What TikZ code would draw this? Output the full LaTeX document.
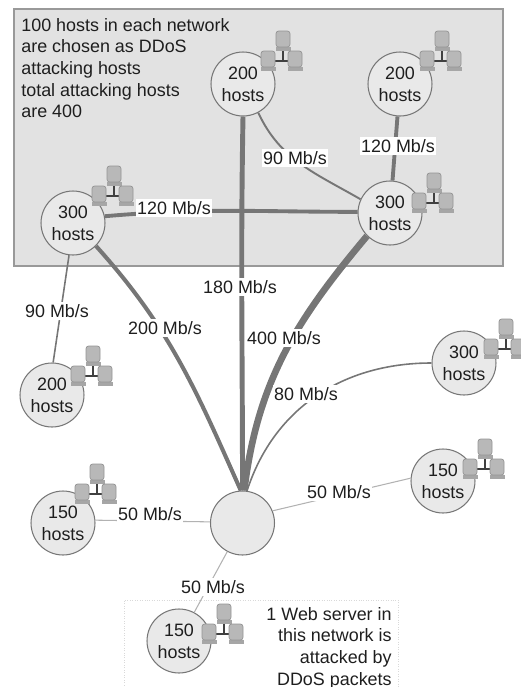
\documentclass[tikz,border=0pt]{standalone}
\usepackage{fontspec}
\setmainfont{Liberation Sans}
\usetikzlibrary{calc}
\definecolor{panelgray}{HTML}{E2E2E2}
\definecolor{nodegray}{HTML}{E9E9E9}
\definecolor{linkgray}{HTML}{767676}
\definecolor{inkgray}{HTML}{1E1E1E}
\tikzset{
  hostcircle/.style={circle,draw=linkgray,fill=nodegray,line width=0.6pt,minimum size=1.28cm,inner sep=0pt,
    align=center,text=inkgray,font=\fontsize{10.2}{12.6}\selectfont},
  ratelabel/.style={fill=white,text=inkgray,inner xsep=0.5pt,inner ysep=1.5pt,font=\fontsize{10.2}{12.6}\selectfont},
  notetext/.style={text=inkgray,inner sep=0pt,font=\fontsize{10.2}{12.3}\selectfont},
  link/.style={draw=linkgray},
  pics/hostgroup/.style={code={
    \draw[line width=1pt,draw=black!75] (0,-8) -- (0,4) (-10,4) -- (10,4);
    \foreach \mx/\my in {0/-17,-15/3,12/3}{
      \fill[black!35] (\mx-7.5,\my+7) rectangle (\mx+7.5,\my+11);
      \fill[rounded corners=1.5pt,black!28,draw=black!42,line width=0.4pt] (\mx-7,\my-9) rectangle (\mx+7,\my+7);
    }
  }},
}
\begin{document}
\begin{tikzpicture}[x=0.02cm,y=-0.02cm]
  \useasboundingbox (0,0) rectangle (521,687);
  \draw[fill=panelgray,draw=black!40,line width=0.9pt] (14,9) rectangle (503,266);
  \draw[draw=black!15,densely dotted] (124,700) -- (124,600) -- (398,600) -- (398,700);
  % networks
  \node[hostcircle] (midtop) at (243,84) {200\\hosts};
  \node[hostcircle] (righttop) at (400,84) {200\\hosts};
  \node[hostcircle] (rightmid) at (390,213) {300\\hosts};
  \node[hostcircle] (leftmid) at (73,223) {300\\hosts};
  \node[hostcircle] (leftlow) at (52,395) {200\\hosts};
  \node[hostcircle] (farright) at (464,363) {300\\hosts};
  \node[hostcircle] (rightlow) at (443,481) {150\\hosts};
  \node[hostcircle] (leftbot) at (63,523) {150\\hosts};
  \node[hostcircle] (victim) at (242.5,523) {};
  \node[hostcircle] (bottom) at (179,641) {150\\hosts};
  % links
  \draw[link,line width=2.8pt] (midtop.-90) to[out=-91,in=90] (victim.90);
  \draw[link,line width=2.2pt] (righttop) -- (rightmid);
  \draw[link,line width=2.2pt] (leftmid.12) to[out=5,in=180] (rightmid.178);
  \draw[link,line width=1.1pt] (midtop.-62) to[out=-65,in=150] (rightmid.155);
  \draw[link,line width=0.9pt] (leftmid.-97) -- (leftlow.88);
  \draw[link,line width=2.3pt] (leftmid.-45) to[out=-48,in=114] (victim.93);
  \draw[link,line width=3.8pt] (rightmid.-135) to[out=-130,in=83] (victim.87);
  \draw[link,line width=0.9pt] (farright.180) to[out=180,in=72] (victim.82);
  \draw[draw=black!30,line width=0.6pt] (leftbot.5) -- (victim.178);
  \draw[draw=black!30,line width=0.6pt] (victim.22) -- (rightlow.175);
  \draw[draw=black!30,line width=0.6pt] (victim.-118) -- (bottom.62);
  % rates
  \node[ratelabel] (r120a) at (174,208) {120 Mb/s};
  \node[ratelabel] (r90a) at (295,158) {90 Mb/s};
  \node[ratelabel] (r120b) at (398,146) {120 Mb/s};
  \node[ratelabel] (r180) at (240,287) {180 Mb/s};
  \node[ratelabel] (r200) at (165,328) {200 Mb/s};
  \node[ratelabel] (r400) at (284,338) {400 Mb/s};
  \node[ratelabel] (r80) at (306,394) {80 Mb/s};
  \node[ratelabel] (r90b) at (57,311) {90 Mb/s};
  \node[ratelabel] (r50a) at (150,514) {50 Mb/s};
  \node[ratelabel] (r50b) at (339,492) {50 Mb/s};
  \node[ratelabel] (r50c) at (213,587) {50 Mb/s};
  % host icons
  \foreach \ix/\iy in {283/57,442/57,434/199,114/192,93/372,97/490,506/345,485/465,224/630}
    \pic at (\ix,\iy) {hostgroup};
  \node[notetext,anchor=north west,align=left] (attacknote) at (21,18) {100 hosts in each network\\are chosen as DDoS\\attacking hosts\\total attacking hosts\\are 400};
  \node[notetext,anchor=north east,align=right] (servernote) at (392,607) {1 Web server in\\this network is\\attacked by\\DDoS packets};
\end{tikzpicture}
\end{document}
